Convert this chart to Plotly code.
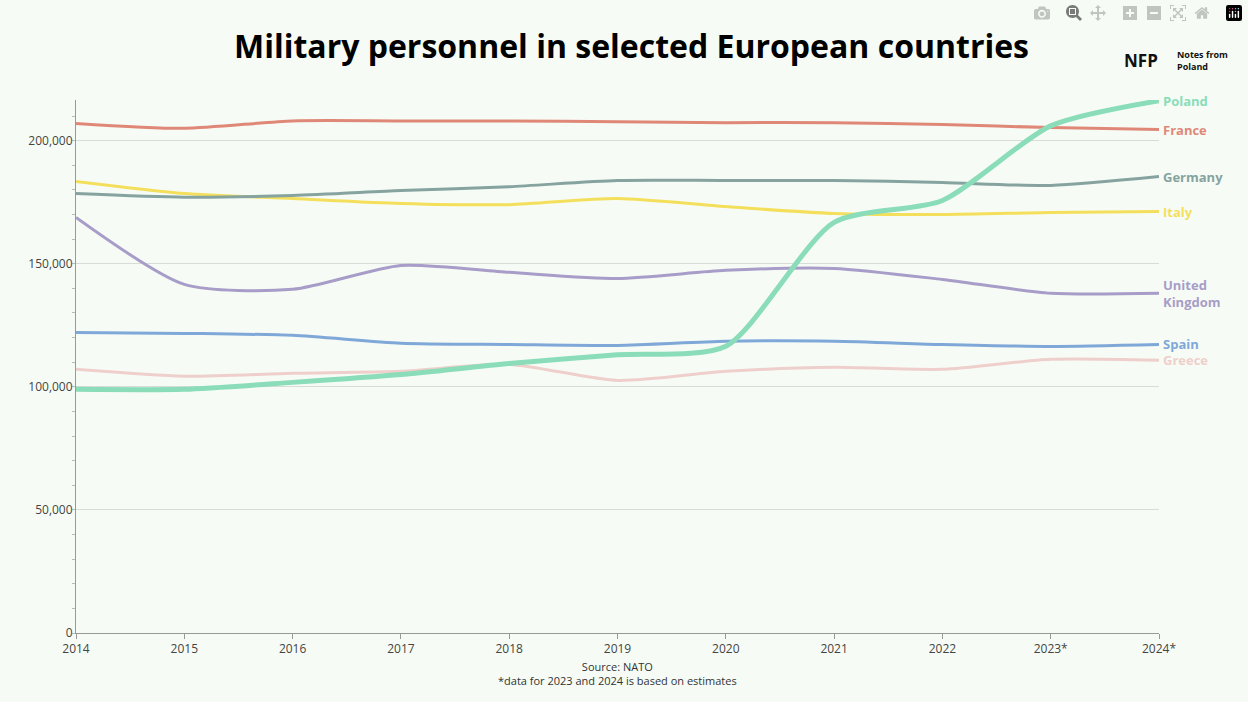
import plotly.graph_objects as go

years = ["2014", "2015", "2016", "2017", "2018", "2019", "2020", "2021", "2022", "2023*", "2024*"]

poland = [99000, 99000, 101800, 105000, 109500, 113000, 116500, 166800, 175700, 206000, 216200]
france = [207000, 205000, 208000, 208000, 208000, 207700, 207300, 207300, 206500, 205300, 204500]
germany = [178500, 177000, 177700, 179700, 181300, 183800, 183800, 183800, 183000, 181800, 185400]
italy = [183400, 178500, 176500, 174500, 174000, 176500, 173200, 170400, 170000, 170800, 171200]
uk = [168800, 141600, 139600, 149300, 146500, 144000, 147300, 148100, 143600, 138000, 138000]
spain = [122100, 121700, 120900, 117700, 117200, 116800, 118500, 118500, 117200, 116400, 117200]
greece = [107100, 104300, 105500, 106300, 109100, 102600, 106300, 107900, 107100, 111200, 110800]

series = [
    ("Greece", greece, "#efcfcb", 3, "Greece"),
    ("Spain", spain, "#7fa8d8", 3, "Spain"),
    ("United Kingdom", uk, "#a89cc8", 3, "United<br>Kingdom"),
    ("Italy", italy, "#f4df5c", 3, "Italy"),
    ("Germany", germany, "#86a3a0", 3, "Germany"),
    ("France", france, "#e08878", 3, "France"),
    ("Poland", poland, "#8addb8", 5, "Poland"),
]

fig = go.Figure()
for name, vals, color, width, label in series:
    fig.add_trace(go.Scatter(
        x=years, y=vals, mode="lines", name=name,
        line=dict(color=color, width=width, shape="spline", smoothing=0.7),
    ))
    fig.add_annotation(
        x=years[-1], y=vals[-1], text=f"<b>{label}</b>", showarrow=False,
        xanchor="left", xshift=2, align="left",
        font=dict(color=color, size=13, family="Open Sans"),
    )

fig.update_layout(
    width=1248, height=702,
    paper_bgcolor="#f6fcf5", plot_bgcolor="#f6fcf5",
    showlegend=False,
    margin=dict(l=76, r=89, t=100, b=69, autoexpand=False),
    font=dict(family="Open Sans", color="#444", size=12),
    title=dict(text="<b>Military personnel in selected European countries</b>",
               x=0.506, xanchor="center", y=1 - 47 / 702, yanchor="middle",
               font=dict(size=32, color="black", family="Open Sans")),
    xaxis=dict(showgrid=False, showline=True, linecolor="#999", ticks="outside",
               ticklen=5, tickcolor="#999", range=[0, 10], type="category",
               tickfont=dict(size=12)),
    yaxis=dict(range=[0, 216500], tickvals=[0, 50000, 100000, 150000, 200000],
               tickformat=",", gridcolor="#d8dcd8", showline=True, linecolor="#999",
               zeroline=False, minor=dict(dtick=10000, ticks="outside", ticklen=3, tickcolor="#bbb"),
               tickfont=dict(size=12)),
)

fig.add_annotation(x=0.5, y=-0.045, xref="paper", yref="paper", showarrow=False,
                   yanchor="top", align="center",
                   text="Source: NATO<br>*data for 2023 and 2024 is based on estimates",
                   font=dict(size=11, color="#333"))

# logo
fig.add_annotation(x=(1122 - 76) / 1083, y=1 + (100 - 47) / 533, xref="paper", yref="paper",
                   showarrow=False, xanchor="left", text="<b>NFP</b>",
                   font=dict(size=17, color="#111"))
fig.add_annotation(x=(1175 - 76) / 1083, y=1 + (100 - 46) / 533, xref="paper", yref="paper",
                   showarrow=False, xanchor="left", align="left", text="<b>Notes from<br>Poland</b>",
                   font=dict(size=9, color="#111"))

fig.write_html("out.html", post_script="document.body.style.margin='0';")
